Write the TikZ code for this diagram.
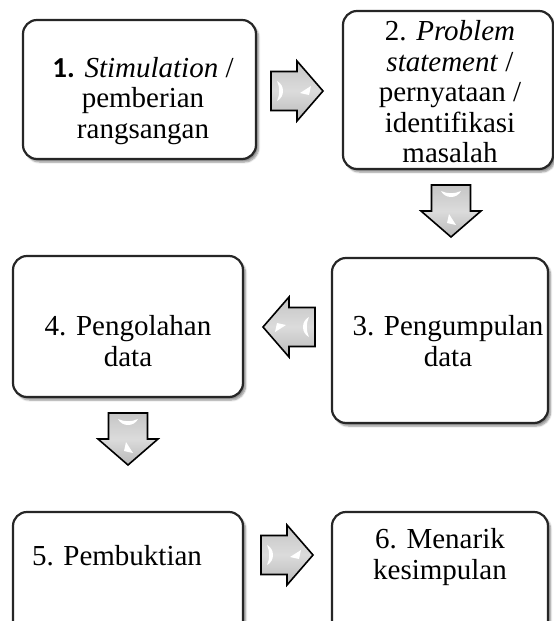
\documentclass[tikz,border=0pt]{standalone}
\usepackage{fontspec}
\setmainfont{Liberation Serif}
\newfontfamily\numfont{Carlito}
\usetikzlibrary{shadows.blur}
\tikzset{
  stagebox/.style={draw=black!85, line width=2.2pt, rounded corners=14pt,
    fill=white, inner sep=0pt,
    blur shadow={shadow xshift=2.5pt, shadow yshift=-3pt, shadow blur steps=6, shadow opacity=45}},
  stagetext/.style={align=center, inner sep=0pt,
    font=\fontsize{29}{30.5}\selectfont},
  blockarrow/.pic={
    \path[draw=black, line width=1.6pt, line join=miter,
          top color=gray!45, bottom color=gray!55, middle color=gray!28]
      (-26,-19.5) -- (0,-19.5) -- (0,-30) -- (26,0) -- (0,30) -- (0,19.5)
      -- (-26,19.5) -- cycle;
    % glossy highlights
    \fill[white] (-20,-10) .. controls (-12,-6) and (-12,6) .. (-20,10)
      .. controls (-17,4) and (-17,-4) .. (-20,-10) -- cycle;
    \fill[white] (3,2) -- (14,-5) -- (12,4) -- cycle;
  }
}
\begin{document}
\begin{tikzpicture}[x=1pt, y=-1pt]
  \useasboundingbox (0,0) rectangle (554,621);
  \clip (0,0) rectangle (554,621);

  % stage boxes
  \node[stagebox, minimum width=233pt, minimum height=139pt] (b1) at (139.5,89.5) {};
  \node[stagebox, minimum width=210pt, minimum height=158pt] (b2) at (448,90) {};
  \node[stagebox, minimum width=216pt, minimum height=165pt] (b3) at (440,340.5) {};
  \node[stagebox, minimum width=230pt, minimum height=141pt] (b4) at (128,326.5) {};
  \node[stagebox, minimum width=230pt, minimum height=150pt] (b5) at (128,587) {};
  \node[stagebox, minimum width=216pt, minimum height=150pt] (b6) at (440,587) {};

  % stage labels
  \node[stagetext] (t1) at (143,101)
    {{\numfont\bfseries 1.} \textit{Stimulation} /\\ pemberian\\ rangsangan};
  \node[stagetext] (t2) at (450,92)
    {2. \textit{Problem}\\ \textit{statement} /\\ pernyataan /\\ identifikasi\\ masalah};
  \node[stagetext] (t3) at (448,341) {3. Pengumpulan\\ data};
  \node[stagetext] (t4) at (128,341) {4. Pengolahan\\ data};
  \node[stagetext] (t5) at (117,556) {5. Pembuktian};
  \node[stagetext] (t6) at (440,557) {6. Menarik\\ kesimpulan};

  % block arrows between the stages
  \pic (a12) at (297,91) {blockarrow};
  \pic[rotate=-90] (a23) at (451,211) {blockarrow};
  \pic[rotate=180] (a34) at (289,327) {blockarrow};
  \pic[rotate=-90] (a45) at (128,439) {blockarrow};
  \pic (a56) at (287,555) {blockarrow};
\end{tikzpicture}
\end{document}
